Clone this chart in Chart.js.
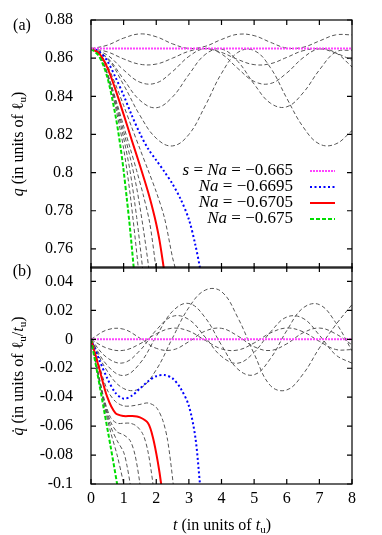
<!DOCTYPE html>
<html>
<head>
<meta charset="utf-8">
<script src="https://cdn.jsdelivr.net/npm/chart.js@4/dist/chart.umd.min.js"></script>
<style>
  html, body { margin: 0; padding: 0; background: #fff; }
  #wrap { position: relative; width: 382px; height: 535px; overflow: hidden;
          font-family: "Liberation Serif", serif; font-size: 16px; color: #000; }
  canvas { position: absolute; left: 0; top: 0; }
  .lbl { position: absolute; white-space: nowrap; line-height: 1; }
  .mid { transform: translate(-50%, -50%); }
  .rot { transform: translate(-50%, -50%) rotate(-90deg); }
  sub { font-size: 11px; vertical-align: -3px; line-height: 0; }
</style>
</head>
<body>
<div id="wrap">
  <canvas id="qChart" width="382" height="535"></canvas>
  <canvas id="vChart" width="382" height="535"></canvas>
  <div class="lbl mid" style="left:22px;top:25px">(a)</div>
  <div class="lbl mid" style="left:22px;top:271px">(b)</div>
  <div class="lbl rot" style="left:18px;top:144px"><i>q</i> (in units of ℓ<sub>u</sub>)</div>
  <div class="lbl rot" style="left:18px;top:376px"><i>q̇</i> (in units of ℓ<sub>u</sub>/<i>t</i><sub>u</sub>)</div>
  <div class="lbl mid" style="left:222px;top:525px"><i>t</i> (in units of <i>t</i><sub>u</sub>)</div>
</div>
<script>
// ticks
const tTicks = [0, 1, 2, 3, 4, 5, 6, 7, 8];
const qTicks = [0.76, 0.78, 0.8, 0.82, 0.84, 0.86, 0.88];
const vTicks = [-0.1, -0.08, -0.06, -0.04, -0.02, 0, 0.02, 0.04];

// legend
const legendNames = ["s = Na = −0.665", "Na = −0.6695", "Na = −0.6705", "Na = −0.675"];

// stationary solution (s = Na = -0.665)
const tMag = [0, 8];
const qMag = [0.865, 0.865];
const vMag = [0, 0];

// oscillating runs (black dashed), sampled every 0.5
const tGrid = [0, 0.5, 1, 1.5, 2, 2.5, 3, 3.5, 4, 4.5, 5, 5.5, 6, 6.5, 7, 7.5, 8];
const qA = [0.8650, 0.8668, 0.8705, 0.8727, 0.8712, 0.8675, 0.8651, 0.8662, 0.8698, 0.8725, 0.8718, 0.8683, 0.8653, 0.8657, 0.8690, 0.8722, 0.8722];
const qB = [0.8650, 0.8633, 0.8596, 0.8568, 0.8569, 0.8600, 0.8636, 0.8650, 0.8630, 0.8593, 0.8566, 0.8571, 0.8604, 0.8639, 0.8649, 0.8627, 0.8589];
const qC = [0.8650, 0.8616, 0.8538, 0.8474, 0.8470, 0.8530, 0.8609, 0.8650, 0.8622, 0.8546, 0.8478, 0.8467, 0.8522, 0.8602, 0.8649, 0.8628, 0.8554];
const qD = [0.8650, 0.8602, 0.8489, 0.8379, 0.8340, 0.8397, 0.8514, 0.8619, 0.8648, 0.8583, 0.8464, 0.8364, 0.8345, 0.8418, 0.8538, 0.8632, 0.8642];
const qE = [0.8650, 0.8598, 0.8460, 0.8300, 0.8180, 0.8140, 0.8200, 0.8350, 0.8520, 0.8630, 0.8640, 0.8550, 0.8390, 0.8240, 0.8150, 0.8150, 0.8220];
const vA = [0, 0.0066, 0.0070, 0.0008, -0.0062, -0.0073, -0.0016, 0.0057, 0.0076, 0.0023, -0.0051, -0.0077, -0.0031, 0.0045, 0.0078, 0.0038, -0.0038];
const vB = [0, -0.0062, -0.0076, -0.0031, 0.0038, 0.0077, 0.0057, -0.0007, -0.0066, -0.0074, -0.0025, 0.0044, 0.0078, 0.0052, -0.0014, -0.0070, -0.0071];
const vC = [0, -0.0128, -0.0162, -0.0077, 0.0064, 0.0159, 0.0137, 0.0015, -0.0118, -0.0165, -0.0090, 0.0050, 0.0154, 0.0145, 0.0029, -0.0107, -0.0165];
const vD = [0, -0.0180, -0.0250, -0.0166, 0.0020, 0.0194, 0.0248, 0.0150, -0.0040, -0.0206, -0.0245, -0.0133, 0.0060, 0.0217, 0.0240, 0.0116, -0.0079];
const vE = [0, -0.022, -0.034, -0.034, -0.021, 0.001, 0.022, 0.034, 0.033, 0.015, -0.010, -0.032, -0.035, -0.024, -0.006, 0.010, 0.024];

// collapsing runs
const tBlueQ = [0, 0.25, 0.5, 0.75, 1, 1.25, 1.5, 1.75, 2, 2.25, 2.5, 2.75, 3, 3.2, 3.34, 3.45];
const qBlue = [0.865, 0.8635, 0.8585, 0.850, 0.8405, 0.830, 0.8205, 0.8125, 0.8065, 0.8005, 0.794, 0.786, 0.7755, 0.762, 0.75, 0.738];
const tBlueV = [0, 0.25, 0.5, 0.75, 1, 1.25, 1.5, 1.75, 2, 2.25, 2.5, 2.75, 3, 3.2, 3.34, 3.45];
const vBlue = [0, -0.014, -0.027, -0.037, -0.041, -0.039, -0.034, -0.029, -0.0255, -0.0247, -0.027, -0.034, -0.046, -0.068, -0.1, -0.125];

const tRedQ = [0, 0.25, 0.5, 0.75, 1, 1.25, 1.5, 1.75, 1.9, 2, 2.1, 2.23, 2.35];
const qRed = [0.865, 0.8625, 0.855, 0.8435, 0.8305, 0.817, 0.8037, 0.7898, 0.7803, 0.7731, 0.7645, 0.75, 0.735];
const tRedV = [0, 0.25, 0.5, 0.75, 1, 1.25, 1.5, 1.75, 1.9, 2.05, 2.15, 2.25];
const vRed = [0, -0.02, -0.040, -0.051, -0.053, -0.053, -0.054, -0.058, -0.068, -0.085, -0.1, -0.12];

const tGreenQ = [0, 0.25, 0.5, 0.75, 0.9, 1, 1.1, 1.2, 1.31, 1.4];
const qGreen = [0.865, 0.861, 0.850, 0.830, 0.814, 0.801, 0.786, 0.770, 0.750, 0.732];
const tGreenV = [0, 0.2, 0.4, 0.6, 0.8, 0.9];
const vGreen = [0, -0.024, -0.049, -0.074, -0.1, -0.114];

const tK1Q = [0, 0.2, 0.4, 0.6, 0.8, 1, 1.2, 1.45, 1.55];
const qK1 = [0.865, 0.8627, 0.8559, 0.845, 0.8306, 0.8126, 0.7886, 0.75, 0.73];
const tK1V = [0, 0.2, 0.4, 0.6, 0.8, 1, 1.1];
const vK1 = [0, -0.023, -0.045, -0.064, -0.08, -0.1, -0.115];

const tK2Q = [0, 0.2, 0.4, 0.6, 0.8, 1, 1.2, 1.4, 1.58, 1.7];
const qK2 = [0.865, 0.8628, 0.8563, 0.846, 0.833, 0.8182, 0.8005, 0.7765, 0.75, 0.73];
const tK2V = [0, 0.2, 0.4, 0.6, 0.8, 1, 1.1, 1.2, 1.3];
const vK2 = [0, -0.022, -0.043, -0.060, -0.070, -0.078, -0.087, -0.1, -0.117];

const tK3Q = [0, 0.2, 0.4, 0.6, 0.8, 1, 1.2, 1.4, 1.6, 1.77, 1.9];
const qK3 = [0.865, 0.8629, 0.8566, 0.8467, 0.8346, 0.8216, 0.808, 0.792, 0.771, 0.75, 0.73];
const tK3V = [0, 0.2, 0.4, 0.6, 0.8, 1, 1.2, 1.35, 1.5, 1.6];
const vK3 = [0, -0.021, -0.042, -0.057, -0.064, -0.066, -0.07, -0.08, -0.1, -0.12];

const tK4Q = [0, 0.2, 0.4, 0.6, 0.8, 1, 1.2, 1.4, 1.6, 1.8, 1.99, 2.1];
const qK4 = [0.865, 0.8629, 0.8567, 0.8472, 0.836, 0.8244, 0.8128, 0.801, 0.7884, 0.7736, 0.75, 0.733];
const tK4V = [0, 0.2, 0.4, 0.6, 0.8, 1, 1.2, 1.4, 1.6, 1.75, 1.9, 2];
const vK4 = [0, -0.021, -0.041, -0.054, -0.058, -0.058, -0.058, -0.06, -0.066, -0.078, -0.1, -0.12];

const tK5Q = [0, 0.25, 0.5, 0.75, 1, 1.25, 1.5, 1.75, 2, 2.25, 2.5, 2.58, 2.7];
const qK5 = [0.865, 0.8627, 0.8561, 0.8463, 0.8352, 0.8237, 0.8124, 0.8013, 0.7899, 0.7764, 0.7554, 0.75, 0.735];
const tK5V = [0, 0.25, 0.5, 0.75, 1, 1.25, 1.5, 1.75, 2, 2.2, 2.35, 2.52, 2.6];
const vK5 = [0, -0.018, -0.035, -0.043, -0.046, -0.046, -0.045, -0.044, -0.047, -0.056, -0.07, -0.1, -0.12];

const FONT = '"Liberation Serif", serif';
const pts = (ts, vs) => ts.map((t, i) => ({ x: t, y: vs[i] }));

const styles = {
  mag: { borderColor: "#ff44ff", borderWidth: 2, borderDash: [2, 1] },
  blue: { borderColor: "#0000ff", borderWidth: 2, borderDash: [2, 2.5] },
  red: { borderColor: "#ff0000", borderWidth: 2, borderDash: [] },
  green: { borderColor: "#00dd00", borderWidth: 2, borderDash: [4, 2] },
  black: { borderColor: "#555555", borderWidth: 1, borderDash: [4, 2.5] },
};

function ds(data, style, tension) {
  return Object.assign({ data: data, tension: tension, pointRadius: 0, fill: false, clip: 0 }, styles[style]);
}

const qSets = [
  ds(pts(tMag, qMag), "mag", 0),
  ds(pts(tGreenQ, qGreen), "green", 0.3),
  ds(pts(tRedQ, qRed), "red", 0.3),
  ds(pts(tBlueQ, qBlue), "blue", 0.3),
  ds(pts(tK1Q, qK1), "black", 0.3),
  ds(pts(tK2Q, qK2), "black", 0.3),
  ds(pts(tK3Q, qK3), "black", 0.3),
  ds(pts(tK4Q, qK4), "black", 0.3),
  ds(pts(tK5Q, qK5), "black", 0.3),
  ds(pts(tGrid, qA), "black", 0.4),
  ds(pts(tGrid, qB), "black", 0.4),
  ds(pts(tGrid, qC), "black", 0.4),
  ds(pts(tGrid, qD), "black", 0.4),
  ds(pts(tGrid, qE), "black", 0.4),
];

const vSets = [
  ds(pts(tMag, vMag), "mag", 0),
  ds(pts(tGreenV, vGreen), "green", 0.3),
  ds(pts(tRedV, vRed), "red", 0.3),
  ds(pts(tBlueV, vBlue), "blue", 0.3),
  ds(pts(tK1V, vK1), "black", 0.3),
  ds(pts(tK2V, vK2), "black", 0.3),
  ds(pts(tK3V, vK3), "black", 0.3),
  ds(pts(tK4V, vK4), "black", 0.3),
  ds(pts(tK5V, vK5), "black", 0.3),
  ds(pts(tGrid, vA), "black", 0.4),
  ds(pts(tGrid, vB), "black", 0.4),
  ds(pts(tGrid, vC), "black", 0.4),
  ds(pts(tGrid, vD), "black", 0.4),
  ds(pts(tGrid, vE), "black", 0.4),
];

// box with inward ticks on all four sides, like gnuplot
const framePlugin = {
  id: "frame",
  afterDatasetsDraw(chart, args, opts) {
    const { ctx, chartArea: a } = chart;
    const x = chart.scales.x, y = chart.scales.y;
    ctx.save();
    ctx.strokeStyle = "#000";
    ctx.lineWidth = 1.2;
    ctx.setLineDash([]);
    ctx.strokeRect(a.left, a.top, a.right - a.left, a.bottom - a.top);
    ctx.beginPath();
    tTicks.forEach((v) => {
      const px = x.getPixelForValue(v);
      ctx.moveTo(px, a.top); ctx.lineTo(px, a.top + 5);
      ctx.moveTo(px, a.bottom); ctx.lineTo(px, a.bottom - 5);
    });
    opts.yTicks.forEach((v) => {
      const py = y.getPixelForValue(v);
      ctx.moveTo(a.left, py); ctx.lineTo(a.left + 5, py);
      ctx.moveTo(a.right, py); ctx.lineTo(a.right - 5, py);
    });
    ctx.stroke();
    ctx.restore();
  },
};

// key in the lower part of panel (a)
const keyPlugin = {
  id: "key",
  afterDatasetsDraw(chart, args, opts) {
    if (!opts.show) return;
    const ctx = chart.ctx;
    const sets = chart.data.datasets;
    const rowY = [171, 187, 203, 219];
    const xr = 293;
    ctx.save();
    ctx.textBaseline = "middle";
    legendNames.forEach((name, i) => {
      // italic for the symbols s, N, a
      const parts = name.split(/(s|Na)(?= =)/).filter((p) => p !== "");
      const fonts = parts.map((p) => (p === "s" || p === "Na" ? "italic 17px " + FONT : "17px " + FONT));
      let w = 0;
      parts.forEach((p, k) => { ctx.font = fonts[k]; w += ctx.measureText(p).width; });
      let xx = xr - w;
      ctx.fillStyle = "#000";
      parts.forEach((p, k) => { ctx.font = fonts[k]; ctx.fillText(p, xx, rowY[i]); xx += ctx.measureText(p).width; });
      const d = sets[i === 0 ? 0 : i === 1 ? 3 : i === 2 ? 2 : 1];
      ctx.strokeStyle = d.borderColor;
      ctx.lineWidth = d.borderWidth;
      ctx.setLineDash(d.borderDash || []);
      ctx.beginPath();
      ctx.moveTo(310, rowY[i]);
      ctx.lineTo(335, rowY[i]);
      ctx.stroke();
    });
    ctx.restore();
  },
};

const fmt = (v) => String(parseFloat(Number(v).toFixed(2)));

function makeChart(id, sets, yMin, yMax, yTicks, top, bottomPad, showX, showKey) {
  return new Chart(document.getElementById(id), {
    type: "line",
    data: { datasets: sets },
    plugins: [framePlugin, keyPlugin],
    options: {
      responsive: false,
      animation: false,
      devicePixelRatio: 1,
      layout: { padding: { top: top, bottom: bottomPad, left: 0, right: 30 } },
      plugins: {
        legend: { display: false },
        tooltip: { enabled: false },
        frame: { yTicks: yTicks },
        key: { show: showKey },
      },
      scales: {
        x: {
          type: "linear", min: 0, max: 8, display: showX,
          afterBuildTicks: (s) => { s.ticks = tTicks.map((v) => ({ value: v })); },
          afterFit: (s) => { s.height = showX ? 51 : 0; },
          grid: { display: false }, border: { display: false },
          ticks: { color: "#000", font: { family: FONT, size: 16 }, padding: -3, maxRotation: 0, callback: (v) => fmt(v) },
        },
        y: {
          type: "linear", min: yMin, max: yMax,
          afterBuildTicks: (s) => { s.ticks = yTicks.map((v) => ({ value: v })); },
          afterFit: (s) => { s.width = 91; },
          grid: { display: false }, border: { display: false },
          ticks: { color: "#000", font: { family: FONT, size: 16 }, padding: 10, callback: (v) => fmt(v) },
        },
      },
    },
  });
}

makeChart("qChart", qSets, 0.75, 0.88, qTicks, 20, 535 - 268, false, true);
makeChart("vChart", vSets, -0.1, 0.05, vTicks, 267, 0, true, false);
</script>
</body>
</html>
